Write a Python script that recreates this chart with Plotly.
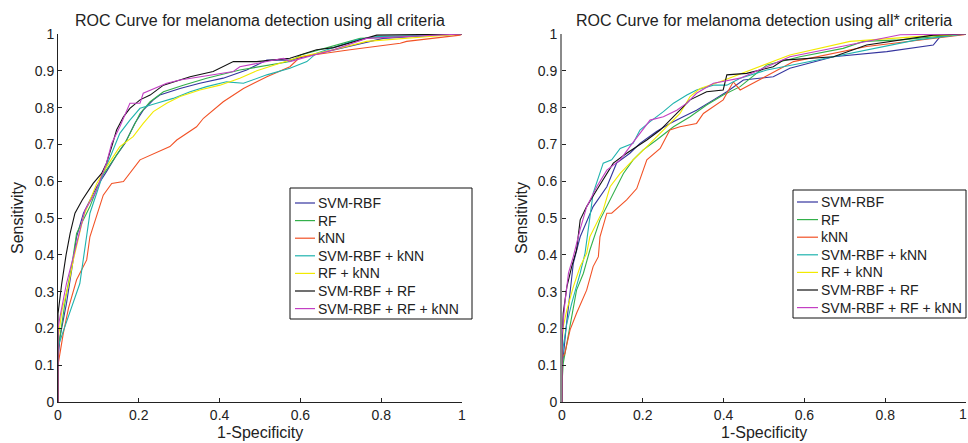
import plotly.graph_objects as go

series_names = ["SVM-RBF", "RF", "kNN", "SVM-RBF + kNN", "RF + kNN", "SVM-RBF + RF", "SVM-RBF + RF + kNN"]
colors = ["#34349e", "#33b04a", "#f25226", "#1fb3ae", "#f2ea00", "#111111", "#c33fc3"]

# ---- Left panel: all criteria (FPR, TPR) ----
L_svm_x = [0, 0, 0.005, 0.021, 0.034, 0.046, 0.063, 0.096, 0.12, 0.145, 0.166, 0.19, 0.211, 0.236, 0.252, 0.302, 0.351, 0.409, 0.467, 0.517, 0.574, 0.682, 0.805, 0.929, 1]
L_svm_y = [0, 0.114, 0.177, 0.268, 0.36, 0.449, 0.513, 0.585, 0.626, 0.671, 0.703, 0.757, 0.793, 0.821, 0.834, 0.852, 0.866, 0.88, 0.902, 0.929, 0.929, 0.957, 0.988, 0.997, 1]
L_rf_x = [0, 0, 0.008, 0.02, 0.034, 0.046, 0.079, 0.108, 0.137, 0.17, 0.203, 0.228, 0.261, 0.31, 0.368, 0.45, 0.574, 0.601, 0.748, 0.929, 1]
L_rf_y = [0, 0.14, 0.2, 0.29, 0.37, 0.458, 0.531, 0.612, 0.658, 0.712, 0.784, 0.816, 0.843, 0.861, 0.88, 0.902, 0.925, 0.943, 0.988, 0.997, 1]
L_knn_x = [0, 0, 0.013, 0.026, 0.046, 0.071, 0.079, 0.112, 0.133, 0.162, 0.203, 0.277, 0.294, 0.343, 0.36, 0.409, 0.459, 0.517, 0.574, 0.6, 0.723, 0.847, 0.863, 0.995, 1]
L_knn_y = [0, 0.1, 0.186, 0.255, 0.332, 0.386, 0.449, 0.562, 0.594, 0.599, 0.658, 0.694, 0.712, 0.748, 0.771, 0.816, 0.852, 0.884, 0.911, 0.938, 0.957, 0.975, 0.98, 0.997, 1]
L_svmknn_x = [0, 0, 0.017, 0.054, 0.079, 0.112, 0.133, 0.153, 0.178, 0.203, 0.244, 0.285, 0.327, 0.368, 0.417, 0.459, 0.517, 0.574, 0.616, 0.64, 0.739, 0.789, 0.95, 1]
L_svmknn_y = [0, 0.15, 0.205, 0.322, 0.513, 0.621, 0.676, 0.73, 0.766, 0.798, 0.812, 0.825, 0.843, 0.857, 0.87, 0.866, 0.889, 0.907, 0.925, 0.948, 0.984, 0.993, 0.997, 1]
L_rfknn_x = [0, 0, 0.01, 0.026, 0.038, 0.063, 0.096, 0.12, 0.153, 0.186, 0.211, 0.236, 0.269, 0.302, 0.351, 0.401, 0.45, 0.492, 0.599, 0.682, 0.764, 0.962, 1]
L_rfknn_y = [0, 0.17, 0.25, 0.318, 0.386, 0.504, 0.594, 0.639, 0.694, 0.721, 0.757, 0.789, 0.812, 0.83, 0.848, 0.861, 0.88, 0.9, 0.938, 0.957, 0.98, 0.997, 1]
L_svmrf_x = [0, 0, 0.009, 0.02, 0.03, 0.042, 0.06, 0.087, 0.108, 0.12, 0.133, 0.145, 0.162, 0.178, 0.203, 0.228, 0.261, 0.285, 0.327, 0.384, 0.434, 0.492, 0.574, 0.64, 0.682, 0.789, 1]
L_svmrf_y = [0, 0.24, 0.32, 0.4, 0.458, 0.513, 0.549, 0.594, 0.621, 0.649, 0.694, 0.739, 0.775, 0.798, 0.821, 0.834, 0.861, 0.87, 0.884, 0.898, 0.925, 0.925, 0.934, 0.957, 0.963, 0.997, 1]
L_all_x = [0, 0, 0.005, 0.021, 0.038, 0.067, 0.092, 0.12, 0.133, 0.153, 0.178, 0.203, 0.211, 0.269, 0.302, 0.434, 0.45, 0.558, 0.574, 0.682, 0.764, 1]
L_all_y = [0, 0.2, 0.232, 0.322, 0.395, 0.522, 0.567, 0.649, 0.703, 0.748, 0.812, 0.812, 0.839, 0.866, 0.875, 0.898, 0.911, 0.934, 0.925, 0.957, 0.988, 1]

# ---- Right panel: all* criteria (FPR, TPR) ----
R_svm_x = [0, 0, 0.01, 0.028, 0.045, 0.077, 0.111, 0.135, 0.168, 0.193, 0.234, 0.267, 0.3, 0.333, 0.375, 0.408, 0.449, 0.523, 0.564, 0.672, 0.804, 0.919, 0.936, 0.995, 1]
R_svm_y = [0, 0.087, 0.2, 0.377, 0.449, 0.531, 0.585, 0.649, 0.676, 0.703, 0.735, 0.757, 0.775, 0.793, 0.821, 0.843, 0.875, 0.884, 0.907, 0.938, 0.952, 0.97, 0.993, 0.998, 1]
R_rf_x = [0, 0, 0.003, 0.036, 0.053, 0.069, 0.094, 0.111, 0.135, 0.152, 0.176, 0.201, 0.234, 0.276, 0.317, 0.358, 0.399, 0.441, 0.507, 0.589, 0.696, 0.746, 0.837, 0.985, 1]
R_rf_y = [0, 0.05, 0.105, 0.304, 0.35, 0.413, 0.495, 0.531, 0.585, 0.621, 0.658, 0.685, 0.712, 0.748, 0.775, 0.807, 0.834, 0.857, 0.916, 0.938, 0.961, 0.98, 0.984, 0.998, 1]
R_knn_x = [0, 0, 0.007, 0.02, 0.036, 0.061, 0.077, 0.09, 0.094, 0.111, 0.123, 0.16, 0.185, 0.21, 0.243, 0.267, 0.292, 0.333, 0.35, 0.399, 0.424, 0.441, 0.573, 0.754, 0.995, 1]
R_knn_y = [0, 0.12, 0.132, 0.196, 0.241, 0.304, 0.368, 0.395, 0.449, 0.513, 0.513, 0.549, 0.58, 0.658, 0.689, 0.739, 0.748, 0.757, 0.784, 0.821, 0.87, 0.848, 0.925, 0.966, 0.998, 1]
R_svmknn_x = [0, 0, 0.003, 0.012, 0.024, 0.036, 0.045, 0.057, 0.077, 0.102, 0.123, 0.144, 0.176, 0.193, 0.218, 0.251, 0.276, 0.309, 0.333, 0.375, 0.408, 0.441, 0.507, 0.589, 0.738, 0.878, 0.985, 1]
R_svmknn_y = [0, 0.1, 0.15, 0.214, 0.268, 0.313, 0.35, 0.404, 0.567, 0.649, 0.658, 0.689, 0.703, 0.739, 0.762, 0.789, 0.812, 0.834, 0.848, 0.861, 0.861, 0.88, 0.902, 0.92, 0.952, 0.984, 0.998, 1]
R_rfknn_x = [0, 0, 0.003, 0.012, 0.028, 0.045, 0.061, 0.069, 0.102, 0.119, 0.144, 0.176, 0.21, 0.243, 0.267, 0.292, 0.317, 0.342, 0.391, 0.424, 0.564, 0.713, 0.878, 1]
R_rfknn_y = [0, 0.15, 0.205, 0.25, 0.313, 0.368, 0.404, 0.449, 0.522, 0.585, 0.621, 0.658, 0.694, 0.73, 0.757, 0.784, 0.83, 0.852, 0.87, 0.884, 0.943, 0.98, 0.993, 1]
R_svmrf_x = [0, 0, 0.003, 0.012, 0.024, 0.036, 0.045, 0.061, 0.086, 0.111, 0.127, 0.16, 0.185, 0.21, 0.243, 0.259, 0.292, 0.317, 0.358, 0.399, 0.408, 0.457, 0.523, 0.548, 0.672, 0.754, 0.919, 1]
R_svmrf_y = [0, 0.15, 0.241, 0.313, 0.368, 0.413, 0.495, 0.531, 0.576, 0.621, 0.649, 0.676, 0.694, 0.712, 0.739, 0.757, 0.793, 0.821, 0.843, 0.848, 0.889, 0.893, 0.911, 0.929, 0.938, 0.97, 0.997, 1]
R_all_x = [0, 0, 0.007, 0.016, 0.028, 0.045, 0.061, 0.086, 0.111, 0.144, 0.168, 0.193, 0.218, 0.251, 0.284, 0.309, 0.333, 0.375, 0.441, 0.564, 0.738, 0.837, 1]
R_all_y = [0, 0.18, 0.268, 0.35, 0.395, 0.47, 0.53, 0.585, 0.63, 0.658, 0.694, 0.73, 0.766, 0.775, 0.793, 0.812, 0.839, 0.866, 0.88, 0.938, 0.975, 0.998, 1]

x_ticks = [0, 0.2, 0.4, 0.6, 0.8, 1]
x_tick_text = ["0", "0.2", "0.4", "0.6", "0.8", "1"]
y_ticks = [0, 0.1, 0.2, 0.3, 0.4, 0.5, 0.6, 0.7, 0.8, 0.9, 1]
y_tick_text = ["0", "0.1", "0.2", "0.3", "0.4", "0.5", "0.6", "0.7", "0.8", "0.9", "1"]

left_title = "ROC Curve for melanoma detection using all criteria"
right_title = "ROC Curve for melanoma detection using all* criteria"
x_label = "1-Specificity"
y_label = "Sensitivity"

left_data = [(L_svm_x, L_svm_y), (L_rf_x, L_rf_y), (L_knn_x, L_knn_y), (L_svmknn_x, L_svmknn_y),
             (L_rfknn_x, L_rfknn_y), (L_svmrf_x, L_svmrf_y), (L_all_x, L_all_y)]
right_data = [(R_svm_x, R_svm_y), (R_rf_x, R_rf_y), (R_knn_x, R_knn_y), (R_svmknn_x, R_svmknn_y),
              (R_rfknn_x, R_rfknn_y), (R_svmrf_x, R_svmrf_y), (R_all_x, R_all_y)]

FONT = "Liberation Sans, Arial, Helvetica, sans-serif"
TXT = "#222222"
W, H = 968, 443
def px_x(p): return p / W
def px_y(p): return 1 - p / H

fig = go.Figure()
for i, (xs, ys) in enumerate(left_data):
    fig.add_trace(go.Scatter(x=xs, y=ys, mode="lines", name=series_names[i], showlegend=False,
                             line=dict(color=colors[i], width=1.1), xaxis="x", yaxis="y"))
for i, (xs, ys) in enumerate(right_data):
    fig.add_trace(go.Scatter(x=xs, y=ys, mode="lines", name=series_names[i], showlegend=False,
                             line=dict(color=colors[i], width=1.1), xaxis="x2", yaxis="y2"))

ax_common = dict(range=[0, 1], showgrid=False, zeroline=False, ticks="inside", ticklen=4,
                 tickcolor=TXT, showline=True, mirror=False, automargin=False,
                 tickfont=dict(family=FONT, size=14, color=TXT), fixedrange=True)

xdom1 = [px_x(58), px_x(462)]
xdom2 = [px_x(562), px_x(966)]
ydom = [px_y(402), px_y(34)]

shapes = []
annotations = []

def add_legend(box_l, box_t, box_r, box_b, line_l, line_r, text_l, first_y, step):
    shapes.append(dict(type="rect", xref="paper", yref="paper",
                       x0=px_x(box_l), x1=px_x(box_r), y0=px_y(box_b), y1=px_y(box_t),
                       line=dict(color="#111111", width=1), fillcolor="white", layer="above"))
    for i, name in enumerate(series_names):
        yc = first_y + step * i
        shapes.append(dict(type="line", xref="paper", yref="paper",
                           x0=px_x(line_l), x1=px_x(line_r), y0=px_y(yc), y1=px_y(yc),
                           line=dict(color=colors[i], width=1.2), layer="above"))
        annotations.append(dict(text=name, x=px_x(text_l), y=px_y(yc), xref="paper", yref="paper",
                                xanchor="left", yanchor="middle", showarrow=False,
                                font=dict(family=FONT, size=14, color=TXT)))

add_legend(290, 188, 472, 319, 295, 315, 316, 203, 17.6)
add_legend(793, 190, 966, 318, 797, 818, 819, 202, 17.6)

for xd, title in ((xdom1, left_title), (xdom2, right_title)):
    xc = (xd[0] + xd[1]) / 2
    annotations.append(dict(text=title, x=xc, y=px_y(21), xref="paper", yref="paper",
                            showarrow=False, xanchor="center", yanchor="middle",
                            font=dict(family=FONT, size=16, color=TXT)))
    annotations.append(dict(text=x_label, x=xc, y=px_y(432), xref="paper", yref="paper",
                            showarrow=False, xanchor="center", yanchor="middle",
                            font=dict(family=FONT, size=16, color=TXT)))
for xp in (17, 521):
    annotations.append(dict(text=y_label, x=px_x(xp), y=px_y(218), xref="paper", yref="paper",
                            showarrow=False, xanchor="center", yanchor="middle", textangle=-90,
                            font=dict(family=FONT, size=16, color=TXT)))

# last x tick label of the right panel sits at the page edge; draw it right-aligned so it is kept
annotations.append(dict(text=x_tick_text[-1], x=x_ticks[-1], y=px_y(414), xref="x2", yref="paper",
                        xshift=3, showarrow=False, xanchor="right", yanchor="middle",
                        font=dict(family=FONT, size=14, color=TXT)))

fig.update_layout(
    width=W, height=H, plot_bgcolor="white", paper_bgcolor="white",
    margin=dict(l=0, r=0, t=0, b=0, autoexpand=False),
    font=dict(family=FONT, color=TXT),
    showlegend=False,
    xaxis=dict(domain=xdom1, anchor="y", tickvals=x_ticks, ticktext=x_tick_text,
               linecolor=TXT, linewidth=1, **ax_common),
    yaxis=dict(domain=ydom, anchor="x", tickvals=y_ticks, ticktext=y_tick_text,
               linecolor=TXT, linewidth=1, **ax_common),
    xaxis2=dict(domain=xdom2, anchor="y2", tickvals=x_ticks, ticktext=x_tick_text,
                linecolor=TXT, linewidth=1, **ax_common),
    yaxis2=dict(domain=ydom, anchor="x2", tickvals=y_ticks, ticktext=y_tick_text,
                linecolor="#8a8a8a", linewidth=2, **ax_common),
    shapes=shapes,
    annotations=annotations,
)

fig.write_html("out.html", config={"displayModeBar": False},
               post_script="document.body.style.margin='0';document.body.style.padding='0';")
